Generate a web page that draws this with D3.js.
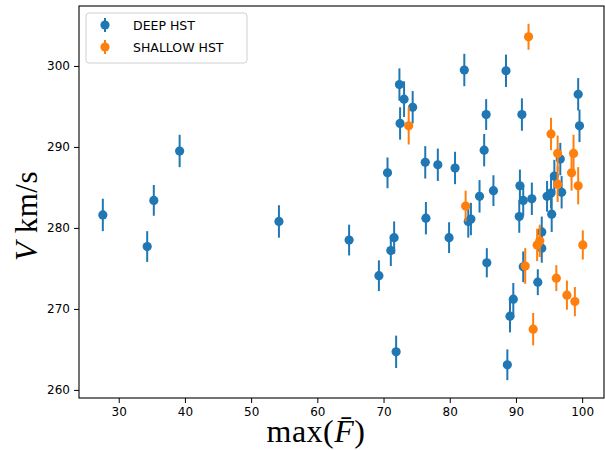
<!DOCTYPE html>
<html><head><meta charset="utf-8">
<script src="https://cdn.jsdelivr.net/npm/d3@7"></script>
<style>body{margin:0;background:#fff}svg{display:block}</style>
</head><body>
<script>
// DEEP HST
const deepX = [27.6,34.3,35.3,39.2,54.2,64.8,69.3,70.6,71.1,71.6,71.9,72.4,72.5,73.1,74.4,76.3,76.4,78.2,79.9,80.8,82.2,82.8,83.2,84.5,85.2,85.5,85.6,86.6,88.5,88.7,89.1,89.6,90.6,90.5,90.9,91.1,91.1,92.4,93.3,93.9,93.9,94.7,95.3,95.4,95.8,96.7,96.9,99.4,99.6];
const deepY = [281.6,277.7,283.4,289.5,280.8,278.5,274.1,286.8,277.2,278.8,264.7,297.7,292.9,295.9,294.9,288.1,281.2,287.8,278.8,287.4,299.5,280.8,281.1,283.9,289.6,294.0,275.7,284.6,299.4,263.1,269.1,271.2,285.2,281.4,294.0,283.4,275.2,283.6,273.3,279.5,277.5,283.9,284.3,281.7,286.4,288.5,284.4,296.5,292.6];
const deepErr = [2.0,1.9,1.9,2.0,2.0,1.9,1.9,1.9,1.9,2.0,2.0,2.0,2.0,2.2,2.0,2.0,2.0,2.0,1.9,2.0,2.0,2.0,2.0,2.0,2.0,1.9,1.8,1.9,2.0,1.9,2.0,2.0,2.0,2.0,2.0,1.9,1.9,2.0,1.6,1.9,1.8,1.9,1.9,2.2,2.0,2.0,2.0,2.0,2.0];
// SHALLOW HST
const shallowX = [73.8,82.4,91.4,91.9,92.6,93.2,93.6,95.3,96.1,96.3,96.3,97.7,98.4,98.7,98.9,99.4,100.1];
const shallowY = [292.6,282.7,275.3,303.6,267.5,277.9,278.4,291.6,273.8,289.2,285.4,271.7,286.8,289.2,270.9,285.2,277.9];
const shallowErr = [2.3,1.9,2.2,1.6,2.0,2.0,2.0,2.0,1.6,2.2,2.2,1.8,2.2,2.3,1.8,2.3,1.8];
const xTicks = [30,40,50,60,70,80,90,100];
const yTicks = [260,270,280,290,300];
const seriesNames = ["DEEP HST","SHALLOW HST"];
const colors = ["#1f77b4","#ff7f0e"];

const W=605,H=450;
const m={l:79,r:1,t:6,b:52};
const svg=d3.select("body").append("svg").attr("width",W).attr("height",H);
const x=d3.scaleLinear().domain([24.0,103.3]).range([m.l,W-m.r]);
const y=d3.scaleLinear().domain([259.0,307.4]).range([H-m.b,m.t]);

const series=[
  {name:seriesNames[0],color:colors[0],d:deepX.map((v,i)=>({x:v,y:deepY[i],e:deepErr[i]}))},
  {name:seriesNames[1],color:colors[1],d:shallowX.map((v,i)=>({x:v,y:shallowY[i],e:shallowErr[i]}))}
];
const plot=svg.append("g");
series.forEach(s=>{
  const g=plot.append("g");
  g.selectAll("line").data(s.d).join("line")
    .attr("x1",d=>x(d.x)).attr("x2",d=>x(d.x))
    .attr("y1",d=>y(d.y-d.e)).attr("y2",d=>y(d.y+d.e))
    .attr("stroke",s.color).attr("stroke-width",2);
  g.selectAll("circle").data(s.d).join("circle")
    .attr("cx",d=>x(d.x)).attr("cy",d=>y(d.y)).attr("r",4.6)
    .attr("fill",s.color);
});

const fontT="'DejaVu Sans', sans-serif";
const xa=svg.append("g").attr("transform",`translate(0,${H-m.b})`)
  .call(d3.axisBottom(x).tickValues(xTicks).tickSize(5).tickPadding(4).tickFormat(d3.format("d")));
const ya=svg.append("g").attr("transform",`translate(${m.l},0)`)
  .call(d3.axisLeft(y).tickValues(yTicks).tickSize(5).tickPadding(4).tickFormat(d3.format("d")));
[xa,ya].forEach(a=>{
  a.select(".domain").remove();
  a.selectAll("text").attr("font-family",fontT).attr("font-size",12).attr("fill","#000");
  a.selectAll("line").attr("stroke","#000").attr("stroke-width",1);
});
// frame
svg.append("rect").attr("x",m.l).attr("y",m.t).attr("width",W-m.r-m.l).attr("height",H-m.b-m.t)
  .attr("fill","none").attr("stroke","#000").attr("stroke-width",1.1);

// axis labels
const serif="'Liberation Serif','DejaVu Serif',serif";
const xl=svg.append("text").attr("x",316).attr("y",442).attr("text-anchor","middle")
  .attr("font-family",serif).attr("font-size",32).attr("letter-spacing",0.5).attr("fill","#000");
xl.append("tspan").text("max(");
xl.append("tspan").attr("font-style","italic").text("F\u0304");
xl.append("tspan").text(")");
const yl=svg.append("text").attr("transform","translate(37,216) rotate(-90)").attr("text-anchor","middle")
  .attr("font-family",serif).attr("font-size",31).attr("letter-spacing",0.5).attr("fill","#000");
yl.append("tspan").attr("font-style","italic").text("V");
yl.append("tspan").text(" km/s");

// legend
const lg=svg.append("g");
lg.append("rect").attr("x",86).attr("y",13).attr("width",161).attr("height",50).attr("rx",3)
  .attr("fill","#fff").attr("fill-opacity",0.8).attr("stroke","#d0d0d0").attr("stroke-width",1);
series.forEach((s,i)=>{
  const cy=25+i*22;
  lg.append("line").attr("x1",105).attr("x2",105).attr("y1",cy-7).attr("y2",cy+7).attr("stroke",s.color).attr("stroke-width",2);
  lg.append("circle").attr("cx",105).attr("cy",cy).attr("r",4.6).attr("fill",s.color);
  lg.append("text").attr("x",133).attr("y",cy+4.5).attr("font-family",fontT).attr("font-size",12.5).attr("fill","#000").text(s.name);
});
</script>
</body></html>
